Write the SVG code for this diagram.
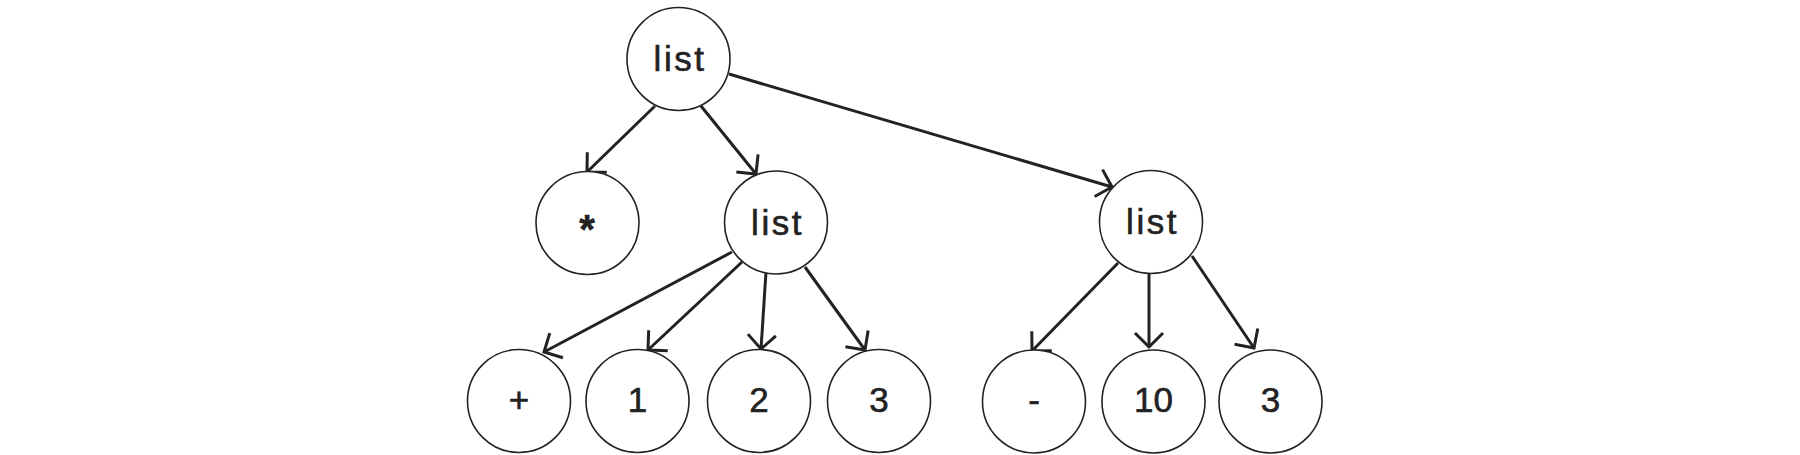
<svg xmlns="http://www.w3.org/2000/svg" width="1800" height="455" viewBox="0 0 1800 455">
<style>
.n circle{fill:#fff;stroke:#222;stroke-width:1.6}
.n text{font-family:"Liberation Sans",Arial,sans-serif;font-size:35px;fill:#222;stroke:#222;stroke-width:0.6;text-anchor:middle}
.n text.w{letter-spacing:2.5px}
#edges line{stroke:#222;stroke-width:3;marker-end:url(#ah)}
</style>
<defs>
<marker id="ah" markerUnits="userSpaceOnUse" orient="auto" markerWidth="40" markerHeight="40" refX="0" refY="0" viewBox="-20 -20 40 40" overflow="visible">
<path d="M-14,-14 L0,0 L-14,14" fill="none" stroke="#222" stroke-width="3"/>
</marker>
</defs>
<rect width="1800" height="455" fill="#fff"/>
<g id="edges">
<line x1="655" y1="106" x2="587" y2="172"/>
<line x1="701" y1="106" x2="756" y2="174"/>
<line x1="729" y1="74" x2="1112" y2="187"/>
<line x1="732" y1="252" x2="544" y2="352"/>
<line x1="742" y1="262" x2="648" y2="350"/>
<line x1="766" y1="272" x2="761" y2="349"/>
<line x1="805" y1="267" x2="865" y2="350"/>
<line x1="1118" y1="263" x2="1032" y2="351"/>
<line x1="1149" y1="274" x2="1149" y2="347"/>
<line x1="1192" y1="256" x2="1254" y2="348"/>
</g>
<g id="n-root" class="n"><circle cx="678.5" cy="59" r="51.5"/><text class="w" x="680" y="71">list</text></g>
<g id="n-star" class="n"><circle cx="587.5" cy="223" r="51.5"/><text x="587" y="243" style="font-size:40px;font-weight:bold">*</text></g>
<g id="n-list2" class="n"><circle cx="776" cy="222.5" r="51.5"/><text class="w" x="777.5" y="234.5">list</text></g>
<g id="n-list3" class="n"><circle cx="1151" cy="222" r="51.5"/><text class="w" x="1152.5" y="234">list</text></g>
<g id="n-plus" class="n"><circle cx="519" cy="401" r="51.5"/><text x="519" y="412">+</text></g>
<g id="n-1" class="n"><circle cx="637.5" cy="401" r="51.5"/><text x="637.5" y="412">1</text></g>
<g id="n-2" class="n"><circle cx="759" cy="401" r="51.5"/><text x="759" y="412">2</text></g>
<g id="n-3a" class="n"><circle cx="879" cy="401" r="51.5"/><text x="879" y="412">3</text></g>
<g id="n-minus" class="n"><circle cx="1034" cy="401.5" r="51.5"/><text x="1034" y="412">-</text></g>
<g id="n-10" class="n"><circle cx="1153.5" cy="401.5" r="51.5"/><text x="1153.5" y="412">10</text></g>
<g id="n-3b" class="n"><circle cx="1270.5" cy="401.5" r="51.5"/><text x="1270.5" y="412">3</text></g>
</svg>
